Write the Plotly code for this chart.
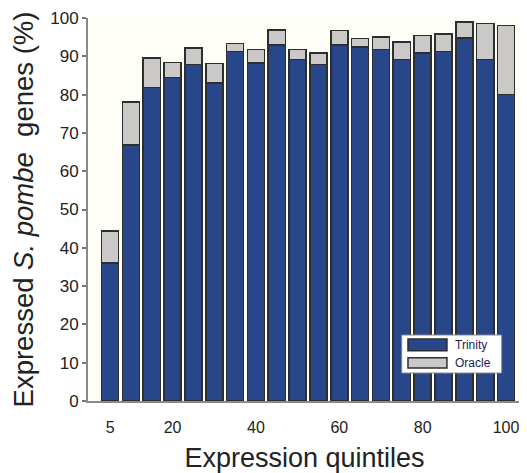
import plotly.graph_objects as go

quintiles = [5, 10, 15, 20, 25, 30, 35, 40, 45, 50, 55, 60, 65, 70, 75, 80, 85, 90, 95, 100]
trinity = [36.0, 66.9, 81.9, 84.5, 87.9, 83.1, 91.3, 88.3, 92.9, 89.2,
           87.9, 92.9, 92.4, 91.8, 89.2, 90.9, 91.3, 94.8, 89.2, 80.0]
oracle_total = [44.4, 78.0, 89.5, 88.4, 92.2, 88.1, 93.3, 91.8, 96.9, 91.8,
                90.9, 96.7, 94.6, 95.0, 93.7, 95.4, 95.8, 99.0, 98.6, 98.0]
x_ticks = [5, 20, 40, 60, 80, 100]
y_ticks = [0, 10, 20, 30, 40, 50, 60, 70, 80, 90, 100]
series_names = ["Trinity", "Oracle"]
series_colors = ["#27478a", "#cbc8c8"]

oracle_extra = [o - t for o, t in zip(oracle_total, trinity)]

fig = go.Figure()
fig.add_trace(go.Bar(
    x=quintiles, y=trinity, name=series_names[0], width=4.1,
    marker=dict(color=series_colors[0], line=dict(color="#2e2e2e", width=1.6)),
))
fig.add_trace(go.Bar(
    x=quintiles, y=oracle_extra, name=series_names[1], width=4.1,
    marker=dict(color=series_colors[1], line=dict(color="#2e2e2e", width=1.6)),
))

font_family = "Liberation Sans, Arial, Helvetica, sans-serif"

# manual legend (wide swatches as in the reference); plot area spans 383 px vertically
legend_box = dict(x0=0.7245, x1=0.9554, y0=0.0731, y1=0.1723)
swatch_x = (0.739, 0.829)
swatch_y = [(0.1313, 0.1619), (0.0862, 0.1131)]
text_y = [0.1462, 0.0992]
shapes = [dict(type="rect", xref="paper", yref="paper", **legend_box,
               fillcolor="white", line=dict(color="#8a8a8a", width=1))]
annotations = []
for i, name in enumerate(series_names):
    shapes.append(dict(type="rect", xref="paper", yref="paper",
                       x0=swatch_x[0], x1=swatch_x[1],
                       y0=swatch_y[i][0], y1=swatch_y[i][1],
                       fillcolor=series_colors[i], line=dict(color="#2e2e2e", width=1.5)))
    annotations.append(dict(text=name, xref="paper", yref="paper",
                            x=0.843, y=text_y[i], xanchor="left", yanchor="middle",
                            showarrow=False, font=dict(size=12, color="#1e2250")))

fig.update_layout(
    barmode="stack",
    width=519, height=465,
    margin=dict(l=80, r=6, t=10, b=72),
    paper_bgcolor="white",
    plot_bgcolor="#fefef7",
    font=dict(family=font_family, color="#222222"),
    showlegend=False,
    shapes=shapes,
    annotations=annotations,
    xaxis=dict(
        range=[-0.3, 103.6], automargin=False,
        tickmode="array", tickvals=x_ticks, ticktext=[str(v) for v in x_ticks],
        ticks="", showgrid=False, zeroline=False,
        showline=True, linecolor="#8a8a8a", linewidth=2,
        tickfont=dict(size=16), ticklabelstandoff=11,
        ticklabeloverflow="allow",
        title=dict(text="Expression quintiles", font=dict(size=27), standoff=16),
    ),
    yaxis=dict(
        range=[0, 100], automargin=False,
        tickmode="array", tickvals=y_ticks,
        ticks="outside", ticklen=4, tickcolor="#777777", tickwidth=1.5,
        showgrid=False, zeroline=False,
        showline=True, linecolor="#8a8a8a", linewidth=2,
        tickfont=dict(size=17),
        ticklabeloverflow="allow",
        title=dict(text="Expressed <i>S. pombe</i>&nbsp; genes (%)", font=dict(size=27.5), standoff=14),
    ),
)

fig.write_html("out.html")
